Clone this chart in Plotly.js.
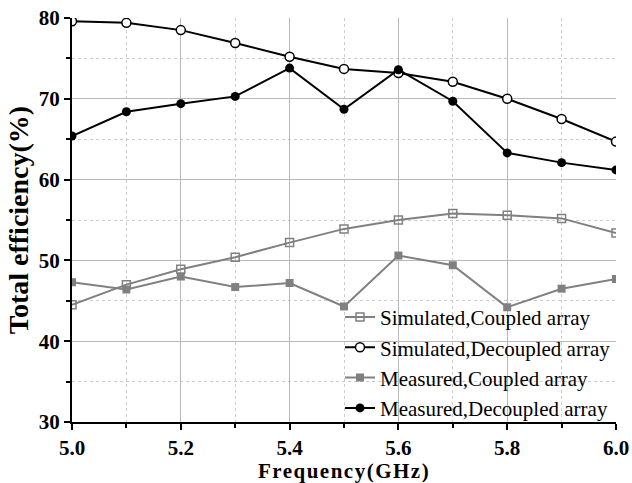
<!DOCTYPE html>
<html><head><meta charset="utf-8">
<script src="https://cdn.plot.ly/plotly-3.0.1.min.js"></script>
<style>body{margin:0;padding:0;background:#fff}#chart{width:632px;height:483px}
#chart .xtitle{letter-spacing:1.5px}</style>
</head><body><div id="chart"></div>
<script>
var freq = [5.0,5.1,5.2,5.3,5.4,5.5,5.6,5.7,5.8,5.9,6.0];
var simCoupled = [44.5,47.0,48.9,50.4,52.2,53.9,55.0,55.8,55.6,55.2,53.4];
var simDecoupled = [79.6,79.4,78.5,76.9,75.2,73.7,73.2,72.1,70.0,67.5,64.7];
var measCoupled = [47.3,46.4,48.0,46.7,47.2,44.3,50.6,49.4,44.2,46.5,47.7];
var measDecoupled = [65.4,68.4,69.4,70.3,73.8,68.7,73.6,69.7,63.3,62.1,61.2];
var names = ['Simulated,Coupled array','Simulated,Decoupled array','Measured,Coupled array','Measured,Decoupled array'];
var gray = '#808080';
var traces = [
 {x:freq,y:simCoupled,name:names[0],mode:'lines+markers',line:{color:gray,width:2},marker:{symbol:'square-open',size:8,color:gray,line:{width:1.5,color:gray}}},
 {x:freq,y:simDecoupled,name:names[1],mode:'lines+markers',line:{color:'#000',width:2},marker:{symbol:'circle',size:9,color:'#fff',line:{width:1.5,color:'#000'}}},
 {x:freq,y:measCoupled,name:names[2],mode:'lines+markers',line:{color:gray,width:2},marker:{symbol:'square',size:8,color:gray}},
 {x:freq,y:measDecoupled,name:names[3],mode:'lines+markers',line:{color:'#000',width:2},marker:{symbol:'circle',size:9,color:'#000'}}
];
var serif = '"Liberation Serif", "DejaVu Serif", serif';
var layout = {
 width:632,height:483,
 margin:{l:72,r:16,t:18,b:61},
 paper_bgcolor:'#fff',plot_bgcolor:'#fff',
 font:{family:serif,color:'#000'},
 showlegend:true,
 legend:{x:1,xanchor:'right',y:-0.017,yanchor:'bottom',bgcolor:'rgba(0,0,0,0)',font:{family:serif,size:21,color:'#000'},tracegroupgap:0,itemwidth:30},
 xaxis:{range:[5,6],dtick:0.2,tick0:5,tickformat:'.1f',showline:true,linewidth:2,linecolor:'#000',
   ticks:'outside',ticklen:6,tickwidth:2,tickcolor:'#000',showgrid:true,gridcolor:'#b8b8b8',gridwidth:1,zeroline:false,
   tickfont:{family:serif,size:21,color:'#000',weight:'bold'},
   minor:{dtick:0.1,tick0:5,ticks:'outside',ticklen:4,tickwidth:2,tickcolor:'#000',showgrid:true,gridcolor:'#cccccc',griddash:'dot',gridwidth:1},
   title:{text:'<b>Frequency(GHz)</b>',font:{family:serif,size:21,color:'#000'},standoff:4}},
 yaxis:{range:[30,80],dtick:10,tick0:30,showline:true,linewidth:2,linecolor:'#000',
   ticks:'outside',ticklen:6,tickwidth:2,tickcolor:'#000',showgrid:true,gridcolor:'#b8b8b8',gridwidth:1,zeroline:false,
   tickfont:{family:serif,size:21,color:'#000',weight:'bold'},
   minor:{dtick:5,tick0:30,ticks:'outside',ticklen:4,tickwidth:2,tickcolor:'#000',showgrid:true,gridcolor:'#cccccc',griddash:'dot',gridwidth:1},
   title:{text:'<b>Total efficiency(%)</b>',font:{family:serif,size:28,color:'#000'},standoff:2}}
};
Plotly.newPlot('chart',traces,layout,{staticPlot:true});
</script></body></html>
